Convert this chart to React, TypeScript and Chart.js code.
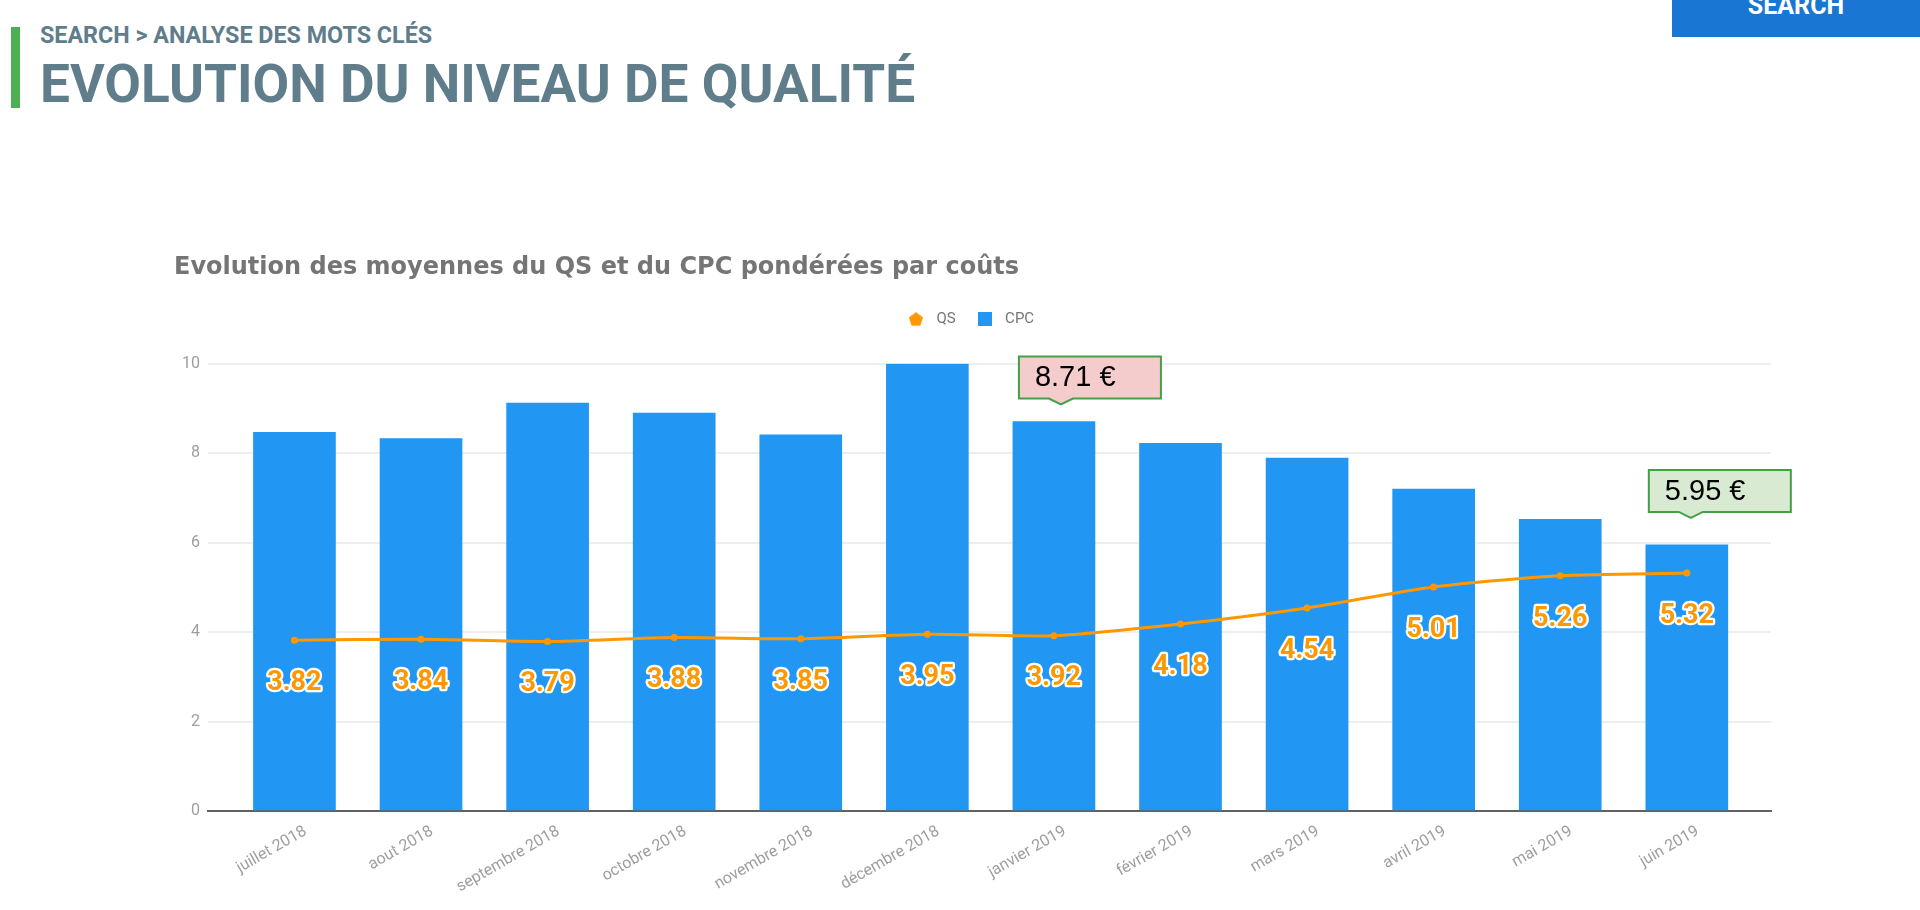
import { useEffect, useRef } from 'react'
import { Chart, registerables } from 'chart.js'

Chart.register(...registerables)

const months = ['juillet 2018', 'aout 2018', 'septembre 2018', 'octobre 2018', 'novembre 2018', 'décembre 2018', 'janvier 2019', 'février 2019', 'mars 2019', 'avril 2019', 'mai 2019', 'juin 2019']
const qs = [3.82, 3.84, 3.79, 3.88, 3.85, 3.95, 3.92, 4.18, 4.54, 5.01, 5.26, 5.32]
const cpc = [8.47, 8.33, 9.12, 8.9, 8.41, 10, 8.71, 8.22, 7.89, 7.2, 6.52, 5.95]
const yTicks = [0, 2, 4, 6, 8, 10]

const ORANGE = '#ff9800'
const BLUE = '#2196f3'

// little canvases for the legend, chart.js has no pentagon
function marker(kind: 'pentagon' | 'square', color: string) {
  const c = document.createElement('canvas')
  c.width = 14
  c.height = 14
  const ctx = c.getContext('2d')!
  ctx.fillStyle = color
  if (kind === 'square') {
    ctx.fillRect(0, 0, 14, 14)
  } else {
    ctx.beginPath()
    for (let i = 0; i < 5; i++) {
      const a = -Math.PI / 2 + (i * 2 * Math.PI) / 5
      ctx.lineTo(7 + 7.4 * Math.cos(a), 7.4 + 7.4 * Math.sin(a))
    }
    ctx.closePath()
    ctx.fill()
  }
  return c
}

// orange values with a white halo, under each QS point
const qsLabels = {
  id: 'qsLabels',
  afterDatasetsDraw(chart: any) {
    const { ctx } = chart
    const meta = chart.getDatasetMeta(0)
    ctx.save()
    ctx.font = 'bold 27px Roboto'
    ctx.textAlign = 'center'
    ctx.textBaseline = 'middle'
    ctx.lineJoin = 'round'
    meta.data.forEach((pt: any, i: number) => {
      const text = qs[i].toFixed(2)
      ctx.lineWidth = 4.5
      ctx.strokeStyle = '#ffffff'
      ctx.strokeText(text, pt.x, pt.y + 43)
      ctx.fillStyle = ORANGE
      ctx.fillText(text, pt.x, pt.y + 43)
    })
    ctx.restore()
  },
}

// the two price callouts, hung above their bars
const callouts = [
  { index: 6, fill: '#f4cccc', dx: 7, gap: 17 },
  { index: 11, fill: '#d9ead3', dx: 4, gap: 27 },
]

const calloutPlugin = {
  id: 'callouts',
  afterDatasetsDraw(chart: any) {
    const { ctx, scales } = chart
    ctx.save()
    for (const c of callouts) {
      const tipX = scales.x.getPixelForValue(c.index) + c.dx
      const tipY = scales.y.getPixelForValue(cpc[c.index]) - c.gap
      const left = tipX - 42
      const bottom = tipY - 6
      const top = bottom - 42
      ctx.beginPath()
      ctx.moveTo(left, top)
      ctx.lineTo(left + 142, top)
      ctx.lineTo(left + 142, bottom)
      ctx.lineTo(tipX + 12, bottom)
      ctx.lineTo(tipX, tipY)
      ctx.lineTo(tipX - 12, bottom)
      ctx.lineTo(left, bottom)
      ctx.closePath()
      ctx.fillStyle = c.fill
      ctx.fill()
      ctx.lineWidth = 2
      ctx.strokeStyle = '#43a047'
      ctx.stroke()
      ctx.fillStyle = '#000000'
      ctx.font = '29px "Liberation Sans"'
      ctx.textBaseline = 'middle'
      ctx.fillText(`${cpc[c.index].toFixed(2)} €`, left + 16, top + 22)
    }
    ctx.restore()
  },
}

// pushes the plot down under the legend without widening the legend's item gap,
// and nudges the legend a bit left of where centring puts it
const legendTweak = {
  id: 'legendTweak',
  beforeInit(chart: any) {
    const fit = chart.legend.fit
    chart.legend.fit = function () {
      fit.call(this)
      this.height += 27
    }
  },
  afterLayout(chart: any) {
    chart.legend.left -= 4
    chart.legend.right -= 4
  },
}

export default function App() {
  const canvasRef = useRef<HTMLCanvasElement>(null)

  useEffect(() => {
    if (!canvasRef.current) return
    const chart = new Chart(canvasRef.current, {
      type: 'bar',
      data: {
        datasets: [
          {
            type: 'line',
            label: 'QS',
            data: qs.map((v, i) => ({ x: i, y: v })),
            borderColor: ORANGE,
            backgroundColor: ORANGE,
            borderWidth: 3,
            pointRadius: 2,
            tension: 0.25,
            order: 0,
          },
          {
            type: 'bar',
            label: 'CPC',
            data: cpc.map((v, i) => ({ x: i, y: v })),
            backgroundColor: BLUE,
            barThickness: 82,
            order: 1,
          },
        ] as any,
      },
      options: {
        responsive: false,
        animation: false,
        layout: { padding: { left: 174, right: 149, top: 253, bottom: 19 } },
        plugins: {
          tooltip: { enabled: false },
          title: {
            display: true,
            text: 'Evolution des moyennes du QS et du CPC pondérées par coûts',
            align: 'start',
            color: '#757575',
            font: { family: '"DejaVu Sans"', size: 24, weight: 'bold' },
            padding: { top: 0, bottom: 14 },
          },
          legend: {
            display: true,
            position: 'top',
            labels: {
              usePointStyle: true,
              pointStyleWidth: 26,
              color: '#757575',
              font: { family: 'Roboto', size: 15 },
              padding: 16,
              generateLabels(c: any) {
                const items = Chart.defaults.plugins.legend.labels.generateLabels(c)
                items[0].pointStyle = marker('pentagon', ORANGE)
                items[1].pointStyle = marker('square', BLUE)
                return items
              },
            },
          },
        },
        scales: {
          x: {
            type: 'linear',
            offset: false,
            min: -0.683,
            max: 11.665,
            afterBuildTicks(scale: any) {
              scale.ticks = months.map((_, i) => ({ value: i }))
            },
            afterFit(scale: any) {
              scale.height = 80
            },
            grid: { display: false },
            border: { display: true, color: '#616161', width: 2 },
            ticks: {
              autoSkip: false,
              minRotation: 30,
              maxRotation: 30,
              labelOffset: 11,
              color: '#9e9e9e',
              font: { family: 'Roboto', size: 16 },
              callback: (v: any) => months[v],
            },
          },
          y: {
            min: 0,
            max: 10,
            afterBuildTicks(scale: any) {
              scale.ticks = yTicks.map((v) => ({ value: v }))
            },
            afterFit(scale: any) {
              scale.width = 34
            },
            grid: { color: '#eeeeee', lineWidth: 2, drawTicks: false },
            border: { display: false },
            ticks: {
              padding: 8,
              color: '#9e9e9e',
              font: { family: 'Roboto', size: 16 },
            },
          },
        },
      },
      plugins: [legendTweak, qsLabels, calloutPlugin],
    } as any)
    return () => chart.destroy()
  }, [])

  return (
    <div style={{ position: 'absolute', left: 0, top: 0, width: 1920, height: 910, overflow: 'hidden', background: '#fff', fontFamily: 'Roboto', filter: 'blur(0.5px)' }}>
      <div style={{ position: 'absolute', left: 11, top: 27, width: 9, height: 81, background: '#4caf50' }} />
      <div style={{ position: 'absolute', left: 40, top: 23, fontSize: 23.3, lineHeight: '25px', fontWeight: 700, color: '#607d8b', whiteSpace: 'nowrap' }}>
        SEARCH &gt; ANALYSE DES MOTS CLÉS
      </div>
      <div style={{ position: 'absolute', left: 40, top: 51, fontSize: 53.2, lineHeight: '66px', fontWeight: 700, color: '#607d8b', whiteSpace: 'nowrap' }}>
        EVOLUTION DU NIVEAU DE QUALITÉ
      </div>
      <div style={{ position: 'absolute', left: 1672, top: 0, width: 248, height: 37, background: '#1976d2' }}>
        <div style={{ position: 'absolute', left: 0, right: 0, top: -7, textAlign: 'center', fontSize: 25, lineHeight: '26px', fontWeight: 700, color: '#fff' }}>SEARCH</div>
      </div>
      <canvas ref={canvasRef} width={1920} height={910} style={{ position: 'absolute', left: 0, top: 0 }} />
    </div>
  )
}
